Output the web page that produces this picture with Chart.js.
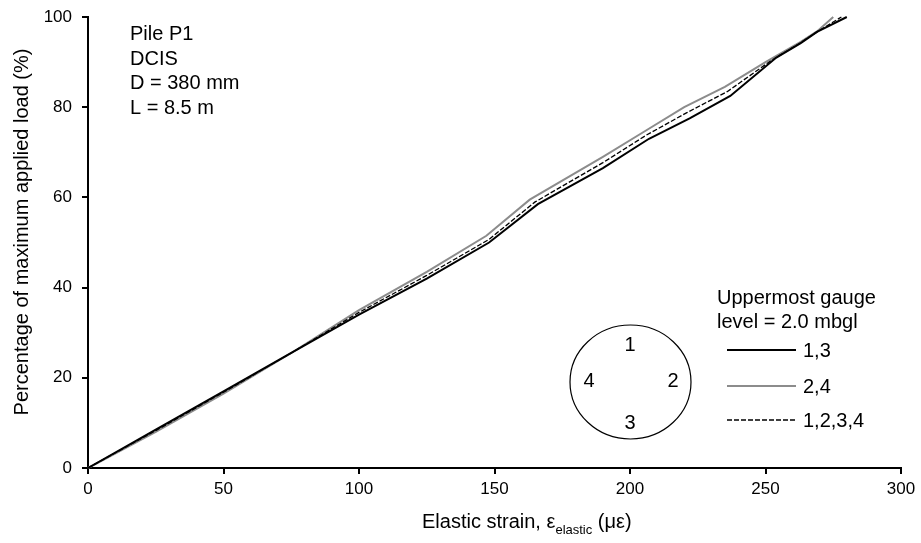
<!DOCTYPE html>
<html>
<head>
<meta charset="utf-8">
<script src="https://cdn.jsdelivr.net/npm/chart.js@4.4.1/dist/chart.umd.min.js"></script>
<style>
  body { margin: 0; background: #fff; }
  #wrap { width: 921px; height: 543px; }
</style>
</head>
<body>
<div id="wrap"><canvas id="myChart" width="921" height="543"></canvas></div>
<script>
// Gauges 1,3
var strain13 = [0, 25, 50, 75, 100, 125, 148, 166, 190, 207, 222, 237, 254, 263, 269, 280];
var load13   = [0, 8.5, 17, 25.5, 34, 42, 50, 58.5, 66.5, 73, 77.5, 82.5, 91, 94.2, 96.7, 100];
// Gauges 2,4
var strain24 = [0, 25, 50, 75, 100, 125, 147, 163, 190, 205, 220, 235, 250, 263, 269, 275];
var load24   = [0, 8, 16.5, 25.5, 35, 43.5, 51.5, 59.5, 69, 74.5, 80, 84.5, 90, 94.5, 96.8, 100];
// Average of 1,2,3,4
var strainAll = [0, 25, 50, 75, 100, 125, 148, 165, 190, 206, 221, 236, 252, 263, 269, 278];
var loadAll   = [0, 8.3, 16.8, 25.5, 34.5, 42.7, 50.7, 59, 67.7, 73.8, 78.8, 83.5, 90.3, 94.3, 96.7, 100];

var seriesNames = ['1,3', '2,4', '1,2,3,4'];
var infoLines = ['Pile P1', 'DCIS', 'D = 380 mm', 'L = 8.5 m'];
var gaugeLines = ['Uppermost gauge', 'level = 2.0 mbgl'];
var yTitle = 'Percentage of maximum applied load (%)';

var FONT = '"Liberation Sans", Arial, sans-serif';

function toPoints(xs, ys) {
  return xs.map(function (x, i) { return { x: x, y: ys[i] }; });
}

// Notes, gauge layout sketch, legend and axis titles
var extras = {
  id: 'extras',
  afterDraw: function (chart) {
    var c = chart.ctx;
    var ds = chart.data.datasets;
    c.save();
    c.fillStyle = '#000';
    c.textBaseline = 'alphabetic';
    c.textAlign = 'left';
    c.font = '20px ' + FONT;
    infoLines.forEach(function (t, i) { c.fillText(t, 130, 40 + i * 24.7); });
    c.textBaseline = 'middle';
    gaugeLines.forEach(function (t, i) { c.fillText(t, 717, 298 + i * 24); });

    // pile cross-section with gauge numbers
    c.beginPath();
    c.ellipse(630.5, 382, 60.5, 57, 0, 0, Math.PI * 2);
    c.strokeStyle = '#000';
    c.lineWidth = 1.2;
    c.stroke();
    c.textAlign = 'center';
    c.fillText('1', 630, 345);
    c.fillText('2', 673, 381);
    c.fillText('3', 630, 423);
    c.fillText('4', 589, 381);

    // legend
    var rowsY = [350, 386, 420];
    ds.forEach(function (d, i) {
      c.beginPath();
      c.moveTo(727, rowsY[i]);
      c.lineTo(796, rowsY[i]);
      c.strokeStyle = d.borderColor;
      c.lineWidth = d.borderWidth;
      c.setLineDash(d.borderDash || []);
      c.stroke();
      c.setLineDash([]);
      c.textAlign = 'left';
      c.fillText(d.label, 803, rowsY[i] + 1);
    });

    // y axis title
    c.save();
    c.translate(22, 232);
    c.rotate(-Math.PI / 2);
    c.textAlign = 'center';
    c.font = '20px ' + FONT;
    c.fillText(yTitle, 0, 0);
    c.restore();

    // x axis title: Elastic strain, ε_elastic (με)
    var parts = [
      { t: 'Elastic strain, \u03b5', f: '20px ' + FONT, base: 528 },
      { t: 'elastic', f: '13px ' + FONT, base: 534 },
      { t: ' (\u03bc\u03b5)', f: '20px ' + FONT, base: 528 }
    ];
    var x = 422;
    c.textAlign = 'left';
    c.textBaseline = 'alphabetic';
    parts.forEach(function (p) {
      c.font = p.f;
      c.fillText(p.t, x, p.base);
      x += c.measureText(p.t).width;
    });
    c.restore();
  }
};

var ctx = document.getElementById('myChart').getContext('2d');

var config = {
  type: 'scatter',
  data: {
    datasets: [{
      label: seriesNames[0],
      data: toPoints(strain13, load13),
      borderColor: '#000000',
      borderWidth: 2,
      order: 1
    }, {
      label: seriesNames[1],
      data: toPoints(strain24, load24),
      borderColor: '#8c8c8c',
      borderWidth: 2,
      order: 2
    }, {
      label: seriesNames[2],
      data: toPoints(strainAll, loadAll),
      borderColor: '#000000',
      borderWidth: 1.3,
      borderDash: [5, 2],
      order: 0
    }]
  },
  options: {
    responsive: false,
    animation: false,
    showLine: true,
    clip: false,
    elements: {
      point: { radius: 0, hoverRadius: 0 },
      line: { tension: 0, fill: false }
    },
    layout: { padding: { top: 17, right: 20, left: 0, bottom: 0 } },
    plugins: {
      legend: { display: false },
      tooltip: { enabled: false }
    },
    scales: {
      x: {
        type: 'linear',
        min: 0,
        max: 300,
        ticks: { stepSize: 50, color: '#000', padding: 5, font: { family: FONT, size: 17 } },
        grid: { drawOnChartArea: false, drawTicks: true, tickLength: 6, color: '#000', lineWidth: 2 },
        border: { color: '#000', width: 2 },
        afterFit: function (s) {
          s.height = 75;
          s.paddingLeft = 0;
          s.paddingRight = 0;
        }
      },
      y: {
        min: 0,
        max: 100,
        ticks: { stepSize: 20, color: '#000', padding: 10, font: { family: FONT, size: 17 } },
        grid: { drawOnChartArea: false, drawTicks: true, tickLength: 6, color: '#000', lineWidth: 2 },
        border: { color: '#000', width: 2 },
        afterFit: function (s) {
          s.width = 88;
          s.paddingTop = 0;
          s.paddingBottom = 0;
        }
      }
    }
  },
  plugins: [extras]
};

var myChart = new Chart(ctx, config);
</script>
</body>
</html>
